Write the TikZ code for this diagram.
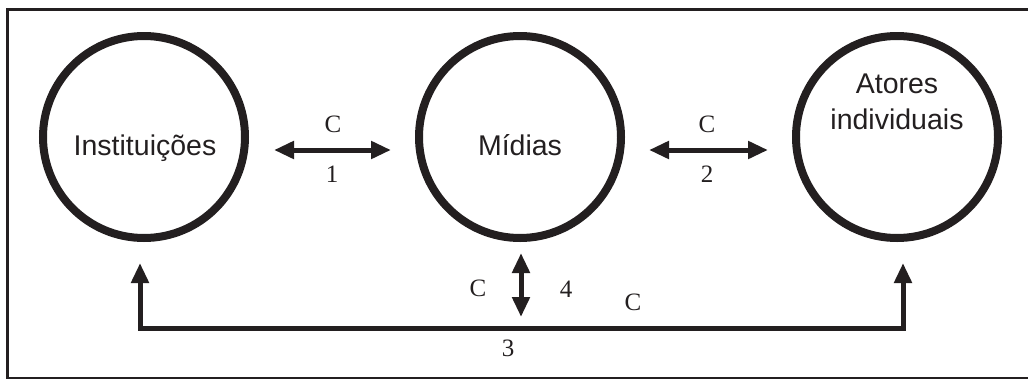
\documentclass[tikz,border=0pt]{standalone}
\usepackage{fontspec}
\setsansfont{Liberation Sans}
\setmainfont{Liberation Serif}
\usetikzlibrary{arrows.meta}
\definecolor{ink}{HTML}{231F20}
\begin{document}
\begin{tikzpicture}[x=1pt,y=-1pt,
  >={Triangle[length=20pt,width=17pt]},
  actor/.style={circle,draw=ink,line width=8pt,minimum size=202pt,inner sep=0pt},
  actorname/.style={font=\sffamily\fontsize{28.5}{36}\selectfont,text=ink,align=center,anchor=base},
  tag/.style={font=\rmfamily\fontsize{25}{28}\selectfont,text=ink,inner sep=0pt},
  link/.style={draw=ink,line width=5pt,line join=miter,<->}
]
\useasboundingbox (0,0) rectangle (1028,378);
% outer frame
\draw[ink,line width=3.5pt] (7.5,9.5) rectangle (1040,378.6);

% the three actors
\node[actor] (inst) at (144,137) {};
\node[actor] (mid)  at (520,137) {};
\node[actor] (ator) at (897,137) {};

\node[actorname] (tinst) at (145,155) {Instituições};
\node[actorname] (tmid)  at (520,155) {Mídias};
\node[actorname] (tator) at (897,129) {Atores\\individuais};

% horizontal relations
\draw[link,shorten <=25pt,shorten >=24pt]
  ([yshift=-13pt]inst.east) -- ([yshift=-13pt]mid.west);
\draw[link,shorten <=24pt,shorten >=24pt]
  ([yshift=-13pt]mid.east) -- ([yshift=-13pt]ator.west);

% lower relations
\coordinate (bl) at (140,328);
\coordinate (br) at (903,328);
\coordinate (bm) at (521,328);
\draw[link,shorten <=21pt,shorten >=21pt]
  (bl |- inst.south) -- (bl) -- (br) -- (br |- ator.south);
\draw[link,shorten <=11pt,shorten >=11pt]
  (bm |- mid.south) -- (bm);

% labels
\node[tag] (c1) at (333,124) {C};
\node[tag] (n1) at (332,174) {1};
\node[tag] (c2) at (707,124) {C};
\node[tag] (n2) at (707,174) {2};
\node[tag] (c4) at (478,288) {C};
\node[tag] (n4) at (566,289) {4};
\node[tag] (c3) at (633,302) {C};
\node[tag] (n3) at (508,348) {3};
\end{tikzpicture}
\end{document}
